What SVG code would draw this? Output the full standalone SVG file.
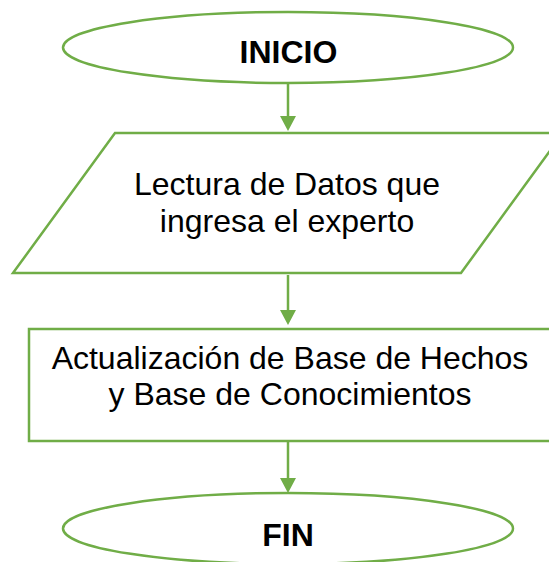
<svg xmlns="http://www.w3.org/2000/svg" width="549" height="562" viewBox="0 0 549 562">
  <style>
    .shape { fill: #FFFFFF; stroke: #70AD47; stroke-width: 2.5; }
    .conn { fill: none; stroke: #70AD47; stroke-width: 2.5; }
    .lbl { font-family: "Liberation Sans", Arial, sans-serif; font-size: 32px; fill: #000000; text-anchor: middle; }
    .bold { font-weight: bold; }
  </style>
  <defs>
    <marker id="arrow" viewBox="0 0 15 16" refX="0" refY="8" markerWidth="15" markerHeight="16" markerUnits="userSpaceOnUse" orient="auto">
      <path d="M0,0 L15,8 L0,16 Z" fill="#70AD47"/>
    </marker>
  </defs>
  <rect x="0" y="0" width="549" height="562" fill="#FFFFFF"/>
  <g id="connectors">
    <line class="conn" x1="288" y1="84" x2="288" y2="116" marker-end="url(#arrow)"/>
    <line class="conn" x1="288" y1="275" x2="288" y2="310" marker-end="url(#arrow)"/>
    <line class="conn" x1="288" y1="442" x2="288" y2="478" marker-end="url(#arrow)"/>
  </g>
  <g id="inicio">
    <ellipse class="shape" cx="288" cy="47.5" rx="225" ry="35.5"/>
    <text class="lbl bold" x="288.5" y="63">INICIO</text>
  </g>
  <g id="lectura">
    <polygon class="shape" points="115,133 563,133 461,273 13,273"/>
    <text class="lbl" x="287" y="195">Lectura de Datos que</text>
    <text class="lbl" x="287" y="231.5">ingresa el experto</text>
  </g>
  <g id="actualizacion">
    <rect class="shape" x="29" y="329" width="525" height="112"/>
    <text class="lbl" x="290" y="369">Actualización de Base de Hechos</text>
    <text class="lbl" x="290" y="405">y Base de Conocimientos</text>
  </g>
  <g id="fin">
    <ellipse class="shape" cx="288" cy="528.5" rx="225" ry="35.5"/>
    <text class="lbl bold" x="288" y="546">FIN</text>
  </g>
</svg>
